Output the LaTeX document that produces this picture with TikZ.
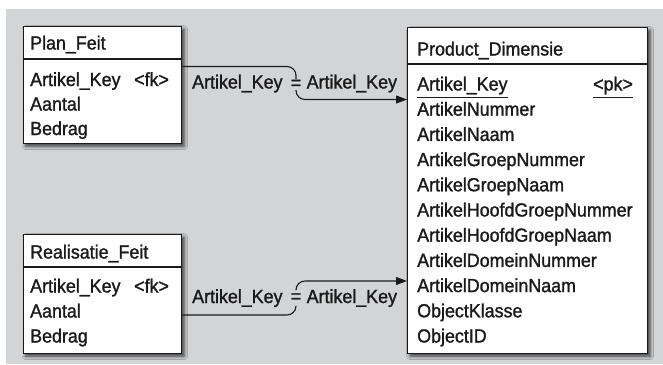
\documentclass[tikz,border=0pt]{standalone}
\usepackage{fontspec}
\setmainfont[FakeStretch=0.94,FakeBold=1.3]{Liberation Sans}
\usetikzlibrary{arrows.meta,shadows.blur}
\definecolor{bgray}{HTML}{D3D4D6}
\definecolor{ink}{HTML}{1A1A1A}

\begin{document}
\begin{tikzpicture}[x=1pt,y=-1pt,
  tbl/.style={draw=ink, line width=1.3pt, fill=white, rectangle, inner sep=0pt,
    anchor=north west,
    blur shadow={shadow xshift=2.5pt, shadow yshift=-2.5pt,
      shadow blur radius=3.5pt, shadow opacity=75}},
  txt/.style={anchor=base west, inner sep=0pt, text=ink,
    font=\fontsize{19}{22}\selectfont},
  eqs/.style={inner sep=0pt, text=ink, font=\fontsize{19}{22}\selectfont},
  rel/.style={draw=ink, line width=1.1pt, rounded corners=9pt},
  sep/.style={draw=ink, line width=1.1pt}]

\useasboundingbox (0,0) rectangle (663,364);
\fill[bgray] (6,9) rectangle (663,364);

% ---- Plan_Feit ----
\node[tbl, minimum width=158.5pt, minimum height=117pt] (plan) at (22.5,26) {};
\draw[sep] ([yshift=-33pt]plan.north west) -- ([yshift=-33pt]plan.north east);
\node[txt] (planT) at (30,49.5) {Plan\_Feit};
\node[txt] (planK) at (30,86) {Artikel\_Key};
\node[txt] (planFk) at (134,86) {\textless fk\textgreater};
\node[txt] (planA) at (30,110.5) {Aantal};
\node[txt] (planB) at (30,135) {Bedrag};

% ---- Realisatie_Feit ----
\node[tbl, minimum width=158.5pt, minimum height=119pt] (real) at (22.5,234) {};
\draw[sep] ([yshift=-33pt]real.north west) -- ([yshift=-33pt]real.north east);
\node[txt] (realT) at (30,258.5) {Realisatie\_Feit};
\node[txt] (realK) at (30,292.5) {Artikel\_Key};
\node[txt] (realFk) at (134,292.5) {\textless fk\textgreater};
\node[txt] (realA) at (30,317.5) {Aantal};
\node[txt] (realB) at (30,342.5) {Bedrag};

% ---- Product_Dimensie ----
\node[tbl, minimum width=240pt, minimum height=326pt] (prod) at (407,27) {};
\draw[sep] ([yshift=-37pt]prod.north west) -- ([yshift=-37pt]prod.north east);
\node[txt] (prodT) at (417,55.5) {Product\_Dimensie};
\foreach \t [count=\i] in {Artikel\_Key, ArtikelNummer, ArtikelNaam,
    ArtikelGroepNummer, ArtikelGroepNaam, ArtikelHoofdGroepNummer,
    ArtikelHoofdGroepNaam, ArtikelDomeinNummer, ArtikelDomeinNaam,
    ObjectKlasse, ObjectID}
  \node[txt] (pr\i) at (417,{90.5+25.2*(\i-1)}) {\t};
\node[txt] (prPk) at (593,90.5) {\textless pk\textgreater};
\draw[sep, line width=0.9pt] ([yshift=-7pt]pr1.base west) -- ([yshift=-7pt]pr1.base east);
\draw[sep, line width=0.9pt] ([yshift=-7pt]prPk.base west) -- ([yshift=-7pt]prPk.base east);

% ---- join conditions ----
\node[txt] (j1a) at (192,88.5) {Artikel\_Key};
\node[eqs, minimum height=11pt] (j1eq) at (296,84.5) {=};
\node[txt] (j1b) at (306.5,88.5) {Artikel\_Key};

\node[txt] (j2a) at (192,303) {Artikel\_Key};
\node[eqs, minimum height=17pt] (j2eq) at (296,298) {=};
\node[txt] (j2b) at (306.5,303) {Artikel\_Key};

% ---- relationships ----
\draw[rel] ([yshift=-40.5pt]plan.north east) -| (j1eq.north);
\draw[rel, -{Triangle[length=11pt,width=8pt]}] (j1eq.south) |- ([yshift=-72.5pt]prod.north west);

\draw[rel] ([yshift=-81pt]real.north east) -| (j2eq.south);
\draw[rel, -{Triangle[length=11pt,width=8pt]}] (j2eq.north) |- ([yshift=-254pt]prod.north west);
\end{tikzpicture}
\end{document}
